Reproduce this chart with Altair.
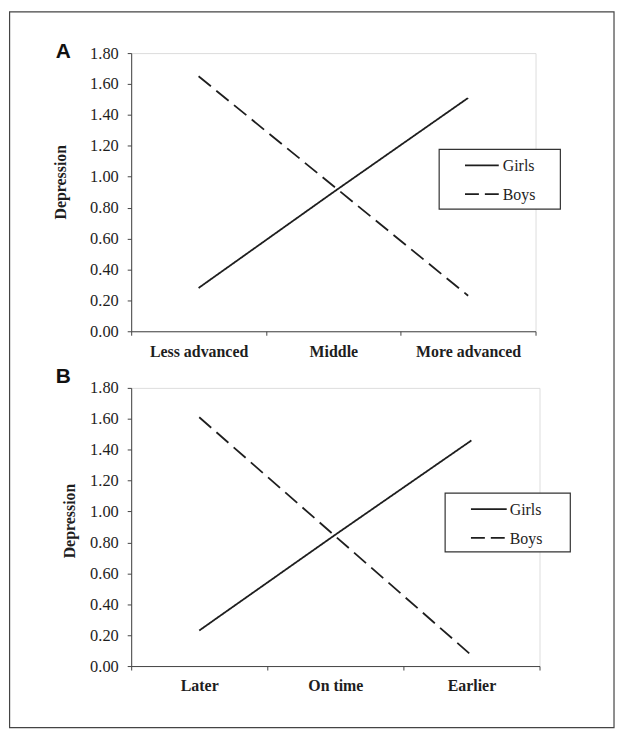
import altair as alt
import pandas as pd

series = ["Girls", "Boys"]

cats_a = ["Less advanced", "Middle", "More advanced"]
girls_a = [0.28, 0.90, 1.51]
boys_a = [1.65, 0.94, 0.23]

cats_b = ["Later", "On time", "Earlier"]
girls_b = [0.23, 0.85, 1.46]
boys_b = [1.61, 0.84, 0.07]

y_ticks = [0.0, 0.2, 0.4, 0.6, 0.8, 1.0, 1.2, 1.4, 1.6, 1.8]
y_title = "Depression"

SERIF = "Liberation Serif"
INK = "#1e1e1e"
AXIS = "#444444"
DASHES = [[1, 0], [16, 7]]
LEGEND_DASHES = [[1, 0], [14, 6]]


def make_df(cats, girls, boys):
    rows = []
    for c, v in zip(cats, girls):
        rows.append({"cat": c, "value": v, "series": "Girls"})
    for c, v in zip(cats, boys):
        rows.append({"cat": c, "value": v, "series": "Boys"})
    return pd.DataFrame(rows)


def legend_layers(box, line_x, row_y, label_x):
    bx, bx2, by, by2 = box
    one = pd.DataFrame({"t": [0]})
    layers = [
        alt.Chart(one).mark_rect(fill="white", stroke="#333333", strokeWidth=1.2, clip=False)
        .encode(x=alt.value(bx), x2=alt.value(bx2), y=alt.value(by), y2=alt.value(by2))
    ]
    for name, dash, ry in zip(series, LEGEND_DASHES, row_y):
        layers.append(
            alt.Chart(one).mark_rule(color=INK, strokeWidth=1.8, strokeDash=dash)
            .encode(x=alt.value(line_x[0]), x2=alt.value(line_x[1]), y=alt.value(ry))
        )
        layers.append(
            alt.Chart(pd.DataFrame({"t": [name]})).mark_text(
                font=SERIF, fontSize=16, color=INK, align="left", baseline="middle"
            ).encode(text="t:N", x=alt.value(label_x), y=alt.value(ry + 1))
        )
    return layers


def panel(cats, girls, boys, letter, width, legend, letter_y, title_pos, border=None):
    df = make_df(cats, girls, boys)
    lines = alt.Chart(df).mark_line(strokeWidth=1.8, color=INK).encode(
        x=alt.X(
            "cat:N",
            sort=cats,
            scale=alt.Scale(paddingInner=0, paddingOuter=0),
            axis=alt.Axis(
                title=None,
                labelAngle=0,
                tickBand="extent",
                tickSize=4,
                labelPadding=8,
                labelFont=SERIF,
                labelFontSize=16,
                labelFontWeight="bold",
                labelColor=INK,
                domainColor=AXIS,
                tickColor=AXIS,
            ),
        ),
        y=alt.Y(
            "value:Q",
            scale=alt.Scale(domain=[0, 1.8], nice=False, zero=True),
            axis=alt.Axis(
                title=None,
                values=y_ticks,
                format=".2f",
                grid=False,
                tickSize=4,
                labelPadding=9,
                labelFont=SERIF,
                labelFontSize=16.5,
                labelColor=INK,
                domainColor=AXIS,
                tickColor=AXIS,
            ),
        ),
        strokeDash=alt.StrokeDash(
            "series:N",
            scale=alt.Scale(domain=series, range=DASHES),
            legend=None,
        ),
    )
    title_layer = alt.Chart(pd.DataFrame({"t": [y_title]})).mark_text(
        font=SERIF, fontSize=16, fontWeight="bold", color=INK, angle=270,
        align="center", baseline="middle",
    ).encode(text="t:N", x=alt.value(title_pos[0]), y=alt.value(title_pos[1]))
    letter_layer = alt.Chart(pd.DataFrame({"t": [letter]})).mark_text(
        font="Liberation Sans", fontSize=21, fontWeight="bold", color="#111111",
        align="left", baseline="middle",
    ).encode(text="t:N", x=alt.value(-76), y=alt.value(letter_y))
    layers = [lines] + legend_layers(*legend) + [title_layer, letter_layer]
    if border is not None:
        bx, bx2, by, by2 = border
        frame = alt.Chart(pd.DataFrame({"t": [0]})).mark_rect(
            fill="transparent", stroke="#444444", strokeWidth=1.2, clip=False
        ).encode(x=alt.value(bx), x2=alt.value(bx2), y=alt.value(by), y2=alt.value(by2))
        layers = [frame] + layers
    return alt.layer(*layers).properties(width=width, height=280)


top = panel(
    cats_a, girls_a, boys_a, "A", 407,
    ((310, 432, 97, 157), (336, 370), (113, 142), 374),
    -1, (-71, 130), border=(-122.4, 486, -41.4, 679),
)
bottom = panel(
    cats_b, girls_b, boys_b, "B", 411,
    ((316, 442, 106, 165), (342, 378), (122, 151), 381),
    -11, (-62, 134),
)

chart = (
    alt.vconcat(top, bottom, spacing=57, bounds="flush")
    .resolve_scale(strokeDash="independent", x="independent", y="independent")
    .properties(padding=0)
    .configure_view(stroke=None)
    .configure(background="white")
)

chart.save("out.html", embed_options={"renderer": "svg", "actions": False})
